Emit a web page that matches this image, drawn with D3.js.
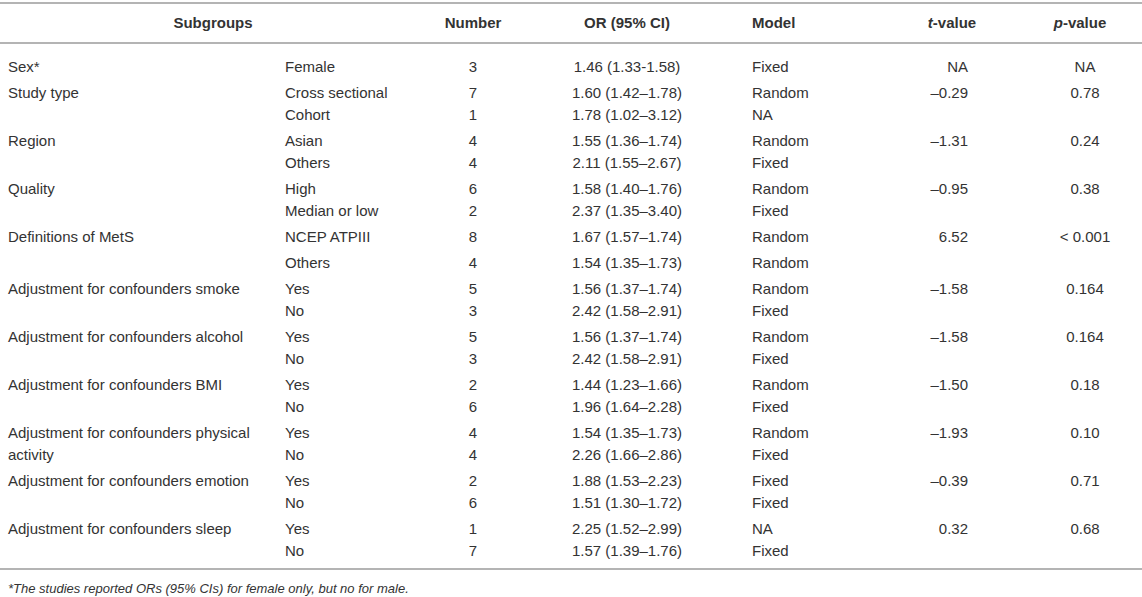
<!DOCTYPE html>
<html>
<head>
<meta charset="utf-8">
<script src="https://cdn.jsdelivr.net/npm/d3@7"></script>
<style>
    body { margin: 0; background: white; }
    text { font-family: "Liberation Sans", Arial, sans-serif; fill: #333; }
</style>
</head>
<body>
<script>
const groups = ["Sex*", "Study type", "Region", "Quality", "Definitions of MetS",
    "Adjustment for confounders smoke", "Adjustment for confounders alcohol",
    "Adjustment for confounders BMI", "Adjustment for confounders physical activity",
    "Adjustment for confounders emotion", "Adjustment for confounders sleep"];

const groupOf = [0, 1, 1, 2, 2, 3, 3, 4, 4, 5, 5, 6, 6, 7, 7, 8, 8, 9, 9, 10, 10];

const subgroups = ["Female", "Cross sectional", "Cohort", "Asian", "Others", "High", "Median or low",
    "NCEP ATPIII", "Others", "Yes", "No", "Yes", "No", "Yes", "No", "Yes", "No", "Yes", "No", "Yes", "No"];

const numbers = [3, 7, 1, 4, 4, 6, 2, 8, 4, 5, 3, 5, 3, 2, 6, 4, 4, 2, 6, 1, 7];

const oddsRatios = ["1.46 (1.33-1.58)", "1.60 (1.42–1.78)", "1.78 (1.02–3.12)", "1.55 (1.36–1.74)",
    "2.11 (1.55–2.67)", "1.58 (1.40–1.76)", "2.37 (1.35–3.40)", "1.67 (1.57–1.74)", "1.54 (1.35–1.73)",
    "1.56 (1.37–1.74)", "2.42 (1.58–2.91)", "1.56 (1.37–1.74)", "2.42 (1.58–2.91)", "1.44 (1.23–1.66)",
    "1.96 (1.64–2.28)", "1.54 (1.35–1.73)", "2.26 (1.66–2.86)", "1.88 (1.53–2.23)", "1.51 (1.30–1.72)",
    "2.25 (1.52–2.99)", "1.57 (1.39–1.76)"];

const models = ["Fixed", "Random", "NA", "Random", "Fixed", "Random", "Fixed", "Random", "Random",
    "Random", "Fixed", "Random", "Fixed", "Random", "Fixed", "Random", "Fixed", "Fixed", "Fixed", "NA", "Fixed"];

// one t / p value per group
const tValues = ["NA", "–0.29", "–1.31", "–0.95", "6.52", "–1.58", "–1.58", "–1.50", "–1.93", "–0.39", "0.32"];
const pValues = ["NA", "0.78", "0.24", "0.38", "< 0.001", "0.164", "0.164", "0.18", "0.10", "0.71", "0.68"];

const footnote = "*The studies reported ORs (95% CIs) for female only, but no for male.";

const W = 1142, H = 597;
const innerStep = 22, groupStep = 26;
const firstRowY = 67;
const fontSize = 15;

// row positions: bigger step when a new group starts, Definitions rows are loose
let rowY = [];
let acc = firstRowY;
groupOf.forEach((g, i) => {
    if (i > 0) {
        acc += (g !== groupOf[i - 1] || g === 4) ? groupStep : innerStep;
    }
    rowY.push(acc);
});

let isFirst = i => i === 0 || groupOf[i] !== groupOf[i - 1];

let rows = subgroups.map((s, i) => ({
    group: isFirst(i) ? groups[groupOf[i]] : "",
    sub: s,
    n: numbers[i],
    or: oddsRatios[i],
    model: models[i],
    t: isFirst(i) ? tValues[groupOf[i]] : "",
    p: isFirst(i) ? pValues[groupOf[i]] : "",
    y: rowY[i]
}));

const columns = [
    { key: "group", title: "Subgroups", x: 8, anchor: "start", hx: 213, hAnchor: "middle" },
    { key: "sub", title: "", x: 285, anchor: "start" },
    { key: "n", title: "Number", x: 473, anchor: "middle", hx: 473, hAnchor: "middle" },
    { key: "or", title: "OR (95% CI)", x: 627, anchor: "middle", hx: 627, hAnchor: "middle" },
    { key: "model", title: "Model", x: 752, anchor: "start", hx: 752, hAnchor: "start" },
    { key: "t", title: "t", x: 968, anchor: "end", hx: 952, hAnchor: "middle" },
    { key: "p", title: "p", x: 1085, anchor: "middle", hx: 1080, hAnchor: "middle" }
];

let svg = d3.select("body")
    .append("svg")
    .attr("width", W)
    .attr("height", H);

// rules
const ruleYs = [3, 43, 569];
svg.append("g")
    .selectAll("line")
    .data(ruleYs)
    .enter()
    .append("line")
    .attr("x1", 0)
    .attr("x2", W)
    .attr("y1", d => d)
    .attr("y2", d => d)
    .attr("stroke", "#b4b4b4")
    .attr("stroke-width", 2);

// header
let header = svg.append("g")
    .attr("font-size", fontSize)
    .attr("font-weight", "bold");

columns.filter(c => c.title).forEach(c => {
    let t = header.append("text")
        .attr("x", c.hx)
        .attr("y", 28)
        .attr("text-anchor", c.hAnchor);
    if (c.key === "t" || c.key === "p") {
        t.append("tspan").attr("font-style", "italic").text(c.title);
        t.append("tspan").text("-value");
    } else {
        t.text(c.title);
    }
});

// body cells
let body = svg.append("g").attr("font-size", fontSize);

function wrap(textSel, width) {
    textSel.each(function () {
        let text = d3.select(this);
        let words = text.text().split(" ");
        let x = text.attr("x");
        text.text(null);
        let line = [];
        let tspan = text.append("tspan").attr("x", x);
        for (let w of words) {
            line.push(w);
            tspan.text(line.join(" "));
            if (tspan.node().getComputedTextLength() > width && line.length > 1) {
                line.pop();
                tspan.text(line.join(" "));
                line = [w];
                tspan = text.append("tspan").attr("x", x).attr("dy", innerStep).text(w);
            }
        }
    });
}

columns.forEach(c => {
    let cells = body.append("g")
        .selectAll("text")
        .data(rows.filter(r => r[c.key] !== ""))
        .enter()
        .append("text")
        .attr("x", c.x)
        .attr("y", d => d.y + 5)
        .attr("text-anchor", c.anchor)
        .text(d => d[c.key]);
    if (c.key === "group") {
        wrap(cells, 265);
    }
});

svg.append("text")
    .attr("x", 8)
    .attr("y", 593)
    .attr("font-size", 13)
    .attr("font-style", "italic")
    .text(footnote);
</script>
</body>
</html>
